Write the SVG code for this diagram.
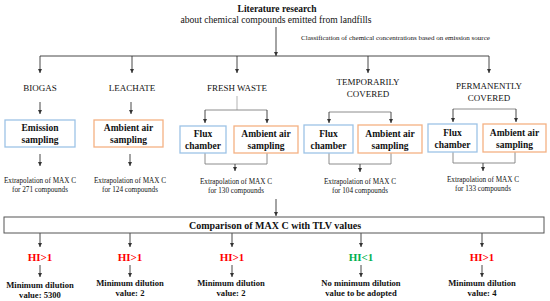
<svg xmlns="http://www.w3.org/2000/svg" width="550" height="301" viewBox="0 0 550 301" font-family="'Liberation Serif', 'DejaVu Serif', serif">
<defs>
<marker id="ah" markerUnits="userSpaceOnUse" markerWidth="5" markerHeight="5" refX="4" refY="2.5" orient="auto">
<path d="M0,0.5 L4,2.5 L0,4.5 Z" fill="#333"/>
</marker>
<style>
text{font-family:'Liberation Serif','DejaVu Serif',serif;text-anchor:middle;fill:#111}
.b{font-weight:bold}
.lab{font-size:9px}
.box{font-size:9.5px;font-weight:bold}
.ext{font-size:7.2px}
.hi{font-size:11px;font-weight:bold}
.md{font-size:8.6px;font-weight:bold}
.blue{fill:#fff;stroke:#9DC3E6;stroke-width:1.3}
.org{fill:#fff;stroke:#F4B183;stroke-width:1.3}
.c{stroke:#333;stroke-width:0.9;fill:none}
.g{stroke:#808080;stroke-width:0.9;fill:none}
.lg{stroke:#c0c0c0;stroke-width:1.2;fill:none}
.a{marker-end:url(#ah)}
</style>
</defs>
<rect width="550" height="301" fill="#fff"/>

<g id="connectors">
<line class="c a" x1="276" y1="27" x2="276" y2="56"/>
<line class="c" x1="40" y1="56" x2="489" y2="56"/>
<line class="c a" x1="40" y1="56" x2="40" y2="73"/>
<line class="c a" x1="132" y1="56" x2="132" y2="73"/>
<line class="c a" x1="237" y1="56" x2="237" y2="73"/>
<line class="c a" x1="368" y1="56" x2="368" y2="73"/>
<line class="c a" x1="489" y1="56" x2="489" y2="73"/>

<line class="c a" x1="40" y1="102" x2="40" y2="114"/>
<line class="c a" x1="131" y1="102" x2="131" y2="114"/>

<line class="lg" x1="237" y1="96" x2="237" y2="110"/>
<line class="g" x1="205" y1="110" x2="267" y2="110"/>
<line class="c a" x1="205" y1="110" x2="205" y2="123"/>
<line class="c a" x1="267" y1="110" x2="267" y2="123"/>

<line class="g" x1="329" y1="112" x2="391" y2="112"/>
<line class="c a" x1="329" y1="112" x2="329" y2="123"/>
<line class="c a" x1="391" y1="112" x2="391" y2="123"/>

<line class="g" x1="453" y1="109" x2="516" y2="109"/>
<line class="c a" x1="453" y1="109" x2="453" y2="122"/>
<line class="c a" x1="516" y1="109" x2="516" y2="122"/>

<line class="c a" x1="40" y1="154" x2="40" y2="166"/>
<line class="c a" x1="130" y1="154" x2="130" y2="166"/>

<polyline class="g" points="205,153 205,164 267,164 267,153"/>
<line class="c a" x1="235" y1="164" x2="235" y2="171"/>
<polyline class="g" points="329,153 329,164 391,164 391,153"/>
<line class="c a" x1="360" y1="164" x2="360" y2="172"/>
<polyline class="g" points="453,152 453,163 515,163 515,152"/>
<line class="c a" x1="483" y1="163" x2="483" y2="171"/>

<line class="c a" x1="276" y1="199" x2="276" y2="216"/>

<line class="c a" x1="40" y1="233" x2="40" y2="247"/>
<line class="c a" x1="130" y1="233" x2="130" y2="247"/>
<line class="c a" x1="232" y1="233" x2="232" y2="247"/>
<line class="c a" x1="361" y1="233" x2="361" y2="247"/>
<line class="c a" x1="482" y1="233" x2="482" y2="247"/>

<line class="c a" x1="40" y1="265" x2="40" y2="277"/>
<line class="c a" x1="130" y1="265" x2="130" y2="277"/>
<line class="c a" x1="232" y1="265" x2="232" y2="277"/>
<line class="c a" x1="361" y1="265" x2="361" y2="277"/>
<line class="c a" x1="482" y1="265" x2="482" y2="277"/>
</g>

<g id="title">
<text class="b" x="277" y="12" font-size="9.5">Literature research</text>
<text x="276" y="22.5" font-size="9.6">about chemical compounds emitted from landfills</text>
</g>
<g id="classification">
<text x="395.5" y="39.5" font-size="7">Classification of chemical concentrations based on emission source</text>
</g>

<g id="biogas"><text class="lab" x="40" y="91">BIOGAS</text></g>
<g id="leachate"><text class="lab" x="132" y="91">LEACHATE</text></g>
<g id="fresh-waste"><text class="lab" x="237" y="91">FRESH WASTE</text></g>
<g id="temporarily-covered"><text class="lab" x="368" y="85">TEMPORARILY</text><text class="lab" x="368" y="96.5">COVERED</text></g>
<g id="permanently-covered"><text class="lab" x="489" y="89">PERMANENTLY</text><text class="lab" x="489" y="101">COVERED</text></g>

<g id="biogas-emission"><rect class="blue" x="5" y="120" width="70" height="27"/><text class="box" x="40" y="131">Emission</text><text class="box" x="40" y="143">sampling</text></g>
<g id="leachate-ambient"><rect class="org" x="94" y="120" width="69" height="27"/><text class="box" x="128.5" y="131">Ambient air</text><text class="box" x="128.5" y="143">sampling</text></g>

<g id="fresh-flux"><rect class="blue" x="180" y="126" width="46" height="27"/><text class="box" x="203" y="137">Flux</text><text class="box" x="203" y="149">chamber</text></g>
<g id="fresh-ambient"><rect class="org" x="234" y="126" width="64" height="27"/><text class="box" x="266" y="137">Ambient air</text><text class="box" x="266" y="149">sampling</text></g>

<g id="temp-flux"><rect class="blue" x="304" y="125" width="49" height="28"/><text class="box" x="328.5" y="136.5">Flux</text><text class="box" x="328.5" y="148.5">chamber</text></g>
<g id="temp-ambient"><rect class="org" x="358" y="125" width="64" height="28"/><text class="box" x="390" y="136.5">Ambient air</text><text class="box" x="390" y="148.5">sampling</text></g>

<g id="perm-flux"><rect class="blue" x="428" y="124" width="49" height="28"/><text class="box" x="452.5" y="135.5">Flux</text><text class="box" x="452.5" y="147.5">chamber</text></g>
<g id="perm-ambient"><rect class="org" x="483" y="124" width="63" height="28"/><text class="box" x="514.5" y="135.5">Ambient air</text><text class="box" x="514.5" y="147.5">sampling</text></g>

<g id="ext-biogas"><text class="ext" x="40" y="182.5">Extrapolation of MAX C</text><text class="ext" x="40" y="191.5">for 271 compounds</text></g>
<g id="ext-leachate"><text class="ext" x="130" y="182.5">Extrapolation of MAX C</text><text class="ext" x="130" y="191.5">for 124 compounds</text></g>
<g id="ext-fresh"><text class="ext" x="236" y="183.5">Extrapolation of MAX C</text><text class="ext" x="236" y="192.5">for 130 compounds</text></g>
<g id="ext-temp"><text class="ext" x="360" y="183.5">Extrapolation of MAX C</text><text class="ext" x="360" y="192.5">for 104 compounds</text></g>
<g id="ext-perm"><text class="ext" x="483" y="181.5">Extrapolation of MAX C</text><text class="ext" x="483" y="190.5">for 133 compounds</text></g>

<g id="comparison"><rect x="4" y="217" width="540" height="16" fill="#fff" stroke="#555" stroke-width="1"/><text class="b" x="275" y="228.5" font-size="10">Comparison of MAX C with TLV values</text></g>

<g id="hi-1"><text class="hi" x="40" y="261" style="fill:#FF0000">HI&gt;1</text></g>
<g id="hi-2"><text class="hi" x="130" y="261" style="fill:#FF0000">HI&gt;1</text></g>
<g id="hi-3"><text class="hi" x="232" y="261" style="fill:#FF0000">HI&gt;1</text></g>
<g id="hi-4"><text class="hi" x="361" y="261" style="fill:#00B050">HI&lt;1</text></g>
<g id="hi-5"><text class="hi" x="482" y="261" style="fill:#FF0000">HI&gt;1</text></g>

<g id="dil-1"><text class="md" x="40" y="288">Minimum dilution</text><text class="md" x="40" y="298">value: 5300</text></g>
<g id="dil-2"><text class="md" x="130" y="286">Minimum dilution</text><text class="md" x="130" y="296">value: 2</text></g>
<g id="dil-3"><text class="md" x="231" y="286">Minimum dilution</text><text class="md" x="231" y="296">value: 2</text></g>
<g id="dil-4"><text class="md" x="361" y="286">No minimum dilution</text><text class="md" x="361" y="296">value to be adopted</text></g>
<g id="dil-5"><text class="md" x="482" y="286">Minimum dilution</text><text class="md" x="482" y="296">value: 4</text></g>
</svg>
